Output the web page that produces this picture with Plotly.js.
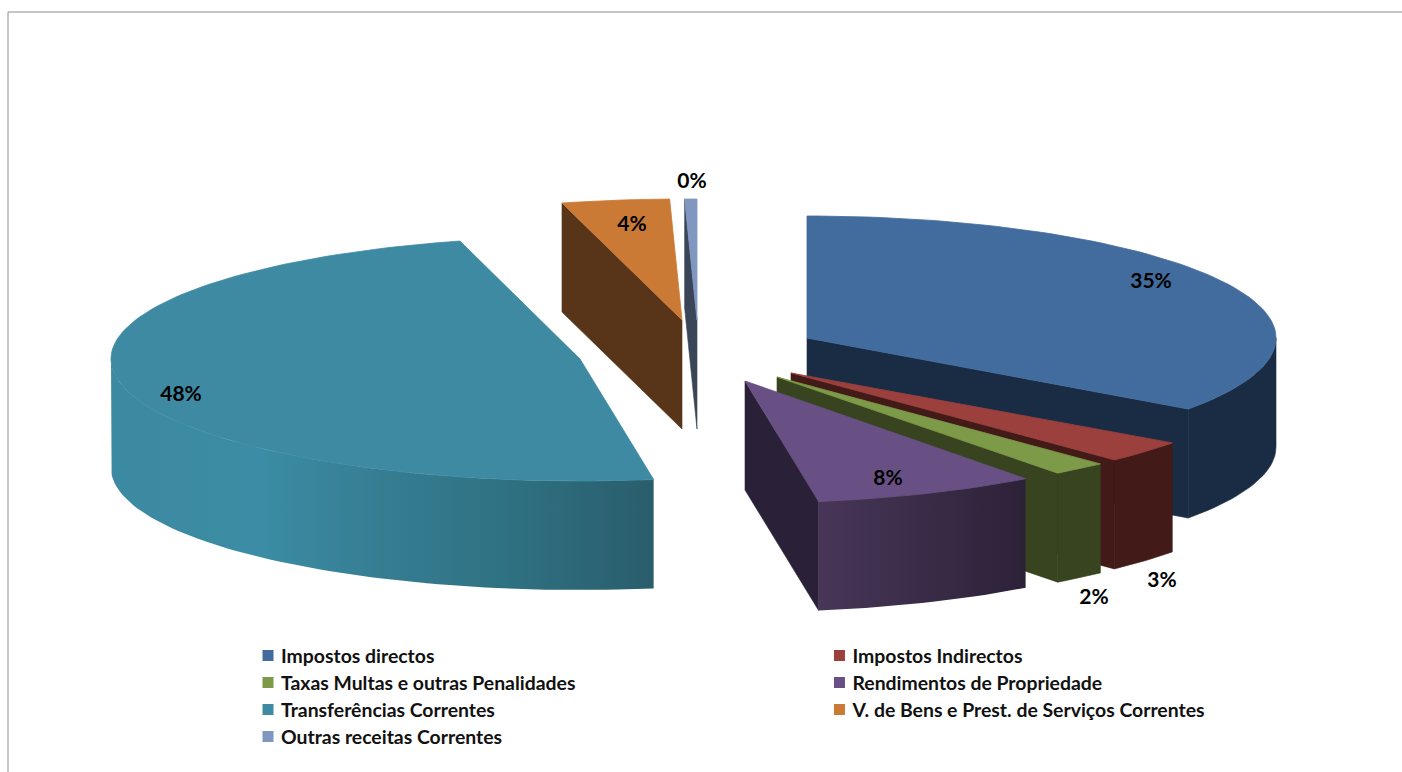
<!DOCTYPE html>
<html>
<head>
<meta charset="utf-8">
<script src="https://cdn.plot.ly/plotly-3.0.1.min.js"></script>
<style>html,body{margin:0;padding:0;background:#fff}#chart{width:1402px;height:772px}</style>
</head>
<body>
<div id="chart"></div>
<script>
// --- data ---
const categories = ["Impostos directos","Impostos Indirectos","Taxas Multas e outras Penalidades","Rendimentos de Propriedade","Transferências Correntes","V. de Bens e Prest. de Serviços Correntes","Outras receitas Correntes"];
const shares = [34.9, 3.0, 1.9, 7.7, 48.4, 3.7, 0.42];

// --- styles ---
const topColors  = ["#426c9e","#9c403d","#7c9a47","#685084","#3e8aa3","#cb7a36","#8097bf"];
const sideColors = ["#1a2c44","#421a17","#384320","#2a2138","#2a5d6c","#583418","#3b4558"];
const wallScales = [
  null,
  null,
  null,
  [[0,"#483658"],[1,"#2c2238"]],
  [[0,"#3c8aa2"],[0.28,"#3b8ca4"],[0.5,"#367d92"],[0.72,"#2f7283"],[1,"#2a5d6c"]],
  null,
  null
];
const centerX = [807,791,777,745,580,682,697];
const centerY = [338,373,377,381,359,320,320];
const radiusX = [469,469,469,469,469,469,469];
const radiusY = [122,120,120,122,122,121,121];
const depth = 109;
const labelX = [1151,1162,1094,888,181,632,692];
const labelY = [283,582,599,480,396,226,183];
const legendColumn = [0,1,0,1,0,1,0];
const legendRowStep = 27;

const total = shares.reduce((a,b)=>a+b,0);
const traces = [];
function poly(xs, ys, extra){
  traces.push(Object.assign({type:"scatter",mode:"lines",x:xs,y:ys,fill:"toself",line:{width:0},hoverinfo:"skip",showlegend:false},extra));
}
function arc(i,a0,a1,dy){
  const xs=[],ys=[],n=Math.max(2,Math.ceil((a1-a0)/1.5));
  for(let k=0;k<=n;k++){
    const t=(a0+(a1-a0)*k/n)*Math.PI/180;
    xs.push(centerX[i]+radiusX[i]*Math.sin(t));
    ys.push(centerY[i]-radiusY[i]*Math.cos(t)+dy);
  }
  return [xs,ys];
}
let cum=0;
shares.forEach((v,i)=>{
  const a0=cum/total*360; cum+=v; const a1=cum/total*360;
  const cx=centerX[i], cy=centerY[i];
  // cut faces that look towards the viewer
  const faces=[];
  if(a0>180) faces.push(a0);
  if(a1<180) faces.push(a1);
  faces.forEach(a=>{
    const [ex,ey]=arc(i,a,a,0);
    poly([cx,ex[0],ex[0],cx,cx],[cy,ey[0],ey[0]+depth,cy+depth,cy],
      {fillcolor:sideColors[i],line:{width:0.6,color:sideColors[i]}});
  });
  // outer wall (only the front half can be seen)
  const w0=Math.max(a0,90), w1=Math.min(a1,270);
  if(w1>w0){
    const [tx,ty]=arc(i,w0,w1,0), [bx,by]=arc(i,w0,w1,depth);
    poly(tx.concat(bx.slice().reverse(),[tx[0]]),ty.concat(by.slice().reverse(),[ty[0]]),
      wallScales[i] ? {fillgradient:{type:"horizontal",colorscale:wallScales[i]}}
                    : {fillcolor:sideColors[i],line:{width:0.6,color:sideColors[i]}});
  }
  // top face
  const [ax,ay]=arc(i,a0,a1,0);
  poly([cx].concat(ax,[cx]),[cy].concat(ay,[cy]),{fillcolor:topColors[i],line:{width:0.8,color:topColors[i]}});
});

// percent labels
traces.push({type:"scatter",mode:"text",x:labelX,y:labelY,
  text:shares.map(v=>Math.round(v)+"%"),textposition:"middle center",
  textfont:{family:"Lato, Carlito, sans-serif",size:21,color:"#000",weight:700},hoverinfo:"skip",showlegend:false});

// legend entries
categories.forEach((c,i)=>{
  traces.push({type:"scatter",mode:"markers",x:[null],y:[null],name:c,
    legendgroup:"g"+i,legend:legendColumn[i]?"legend2":"legend",
    marker:{symbol:"square",size:11,color:topColors[i]},hoverinfo:"skip"});
});

const legendBase={orientation:"v",xanchor:"left",yanchor:"top",y:0.1755,bgcolor:"rgba(0,0,0,0)",
  font:{family:"Lato, Carlito, sans-serif",size:19.4,color:"#111",weight:700},
  itemclick:false,itemdoubleclick:false,itemwidth:30,traceorder:"normal"};

const layout={
  width:1402,height:772,margin:{l:0,r:0,t:0,b:0},
  paper_bgcolor:"#fff",plot_bgcolor:"#fff",
  xaxis:{range:[0,1402],visible:false,fixedrange:true},
  yaxis:{range:[772,0],visible:false,fixedrange:true},
  showlegend:true,
  legend:Object.assign({x:0.1769},legendBase),
  legend2:Object.assign({x:0.5845},legendBase),
  shapes:[{type:"path",path:"M 8 772 L 8 12 L 1402 12",xref:"x",yref:"y",line:{color:"#8c8c8c",width:1}}]
};
function tightenLegend(){
  // text closer to its swatch and rows a little tighter, as in the original
  ["legend","legend2"].forEach(id=>{
    const root=document.querySelector("#chart g."+id);
    if(!root) return;
    root.querySelectorAll("."+id+"text").forEach(t=>t.setAttribute("x",33));
    let y0=null;
    root.querySelectorAll("g.traces").forEach((g,k)=>{
      const m=/translate\(\s*([-\d.]+)[ ,]+([-\d.]+)/.exec(g.getAttribute("transform")||"");
      if(!m) return;
      if(y0===null) y0=parseFloat(m[2]);
      g.setAttribute("transform","translate("+m[1]+","+(y0+k*legendRowStep)+")");
    });
  });
}
Plotly.newPlot("chart",traces,layout,{displayModeBar:false,staticPlot:true}).then(gd=>{
  tightenLegend();
  setTimeout(tightenLegend,0);
  setTimeout(tightenLegend,100);
});
</script>
</body>
</html>
